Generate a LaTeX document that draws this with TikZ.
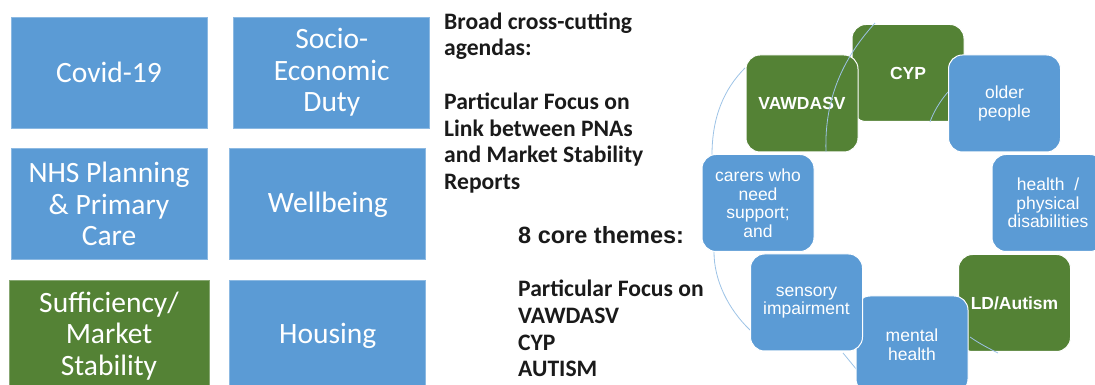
\documentclass[tikz,border=0pt]{standalone}
\usepackage{fontspec}
\setmainfont{Carlito}
\newfontfamily\arialfont{Liberation Sans}
\usepackage{xcolor}
\usepackage{tikz}
\usetikzlibrary{positioning}
\definecolor{boxblue}{HTML}{5B9BD5}
\definecolor{boxgreen}{HTML}{548235}
\definecolor{arcblue}{HTML}{9DC3E6}
\definecolor{inkblack}{HTML}{1A1A1A}

\begin{document}
\begin{tikzpicture}[x=1pt, y=1pt,
agendanode/.style={rectangle, fill=boxblue, draw=boxblue!70!white, line width=0.8pt, minimum width=196pt, minimum height=111pt, inner sep=0pt, align=center, text=white, font=\fontsize{29.5}{31.5}\selectfont},
sufficiencynode/.style={agendanode, fill=boxgreen, draw=boxgreen!70!white, minimum width=200pt},
themenode/.style={rectangle, rounded corners=14pt, fill=boxblue, draw=white, line width=1pt, minimum width=112pt, minimum height=97pt, inner sep=0pt, align=center, text=white, font=\arialfont\fontsize{17.5}{18.5}\selectfont},
keythemenode/.style={themenode, fill=boxgreen, font=\arialfont\bfseries\fontsize{17.5}{18.5}\selectfont},
notenode/.style={inner sep=0pt, align=left, text=inkblack, font=\bfseries\fontsize{23.6}{26.7}\selectfont},
cyclearc/.style={draw=arcblue, line width=0.8pt},
]
\useasboundingbox (0,0) rectangle (1095,385);
\clip (0,0) rectangle (1095,385);

%Agenda boxes
\node[agendanode]		(covid)		at (109,312.5)			{Covid-19};
\node[agendanode]		(socio)		[right=26pt of covid]	{Socio-\\Economic\\Duty};
\node[agendanode]		(nhs)		[below=20pt of covid]	{NHS Planning\\\& Primary\\Care};
\node[agendanode]		(wellbeing)	[right=22pt of nhs]		{Wellbeing};
\node[sufficiencynode]	(market)	[below=20pt of nhs]		{Sufficiency/\\Market\\Stability};
\node[agendanode]		(housing)	[right=20pt of market]	{Housing};

%Notes
\node[notenode, anchor=north west]	(broad)		at (444,372.5)	{Broad cross-cutting\\agendas:\\[26.7pt]Particular Focus on\\Link between PNAs\\and Market Stability\\Reports};
\node[notenode, anchor=base west, font=\arialfont\bfseries\fontsize{23.5}{26}\selectfont]	(themes)	at (518,141)	{8 core themes:};
\node[notenode]		(focuslist)	[below=36pt of themes.base west, anchor=north west]	{Particular Focus on\\VAWDASV\\CYP\\AUTISM};

%Cycle arcs behind
\coordinate (vawTop) at (745,317);
\coordinate (carTop) at (712,230);
\coordinate (carBot) at (714,133);
\coordinate (senLeft) at (750,55);
\coordinate (senBot) at (843,32);
\coordinate (menLeft) at (857,15);
\draw[cyclearc] (vawTop) .. controls (724,296) and (712,268) .. (carTop);
\draw[cyclearc] (carBot) .. controls (714,105) and (728,76) .. (senLeft);
\draw[cyclearc] (senBot) .. controls (848,26) and (852,21) .. (menLeft);

%Cycle boxes
\node[keythemenode]	(cyp)		at (908,312)		{CYP};
\coordinate (oldLeft) at (948,293);
\coordinate (cypBot) at (930,263);
\draw[cyclearc] (oldLeft) .. controls (940,284) and (933,272) .. (cypBot);
\node[keythemenode]	(vawdasv)	at (802,281.5)		{VAWDASV};
\coordinate (cypTop) at (875,362);
\coordinate (vawBot) at (826,233);
\draw[cyclearc] (cypTop) .. controls (846,330) and (824,290) .. (vawBot);
\node[themenode]	(older)		at (1004.5,281.5)	{older\\people};
\node[themenode]	(health)	at (1048,182)		{health~~/\\physical\\disabilities};
\node[keythemenode]	(autism)	at (1014.5,82)		{LD/Autism};
\coordinate (menRight) at (970,48);
\coordinate (ldBot) at (998,32);
\draw[cyclearc] (menRight) .. controls (980,41) and (990,36) .. (ldBot);
\node[themenode]	(mental)	at (912,40.5)		{mental\\health};
\node[themenode]	(sensory)	at (806.5,82.5)		{sensory\\impairment};
\node[themenode]	(carers)	at (758,182)		{carers who\\need\\support;\\and};
\end{tikzpicture}
\end{document}
